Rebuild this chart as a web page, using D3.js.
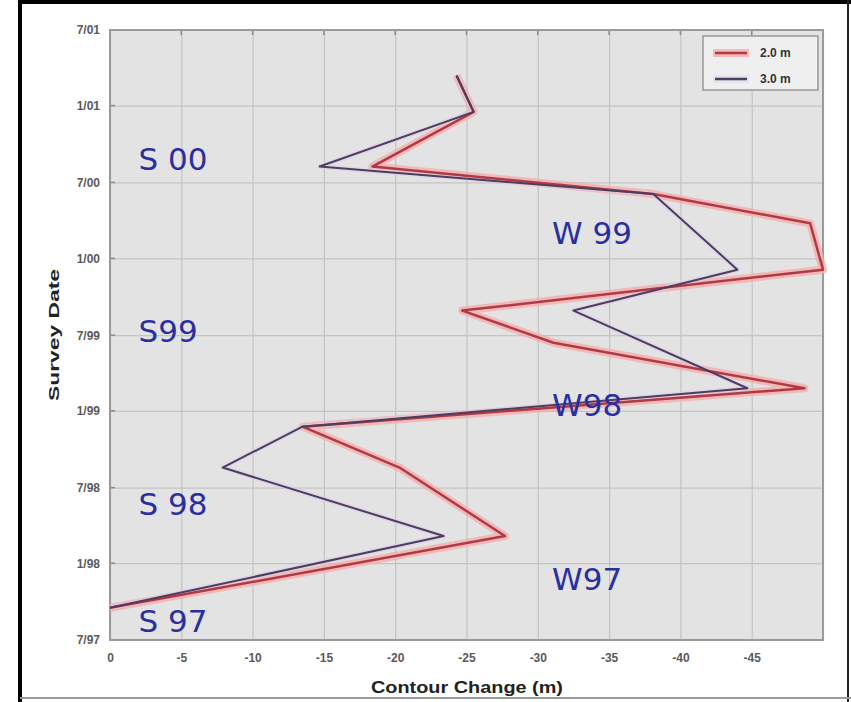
<!DOCTYPE html>
<html>
<head>
<meta charset="utf-8">
<script src="https://cdn.jsdelivr.net/npm/d3@7"></script>
<style>
  body { margin: 0; background: #fff; }
  svg { display: block; }
</style>
</head>
<body>
<script>
// survey dates (shared by both contours)
var surveyDates = ['1997-09-16', '1998-03-07', '1998-08-18', '1998-11-24', '1999-02-24',
	'1999-06-13', '1999-08-29', '1999-12-05', '2000-03-25', '2000-06-03',
	'2000-08-08', '2000-12-17', '2001-03-14'];

// contour change (m), null = no point for that survey
var contour2 = [0, -27.7, -20.3, -13.5, -48.7, -31.1, -24.7, -50, -49.1, -38.1, -18.4, -25.5, -24.3];
var contour3 = [0, -23.4, -7.9, -13.5, -44.7, null, -32.5, -44.0, null, -38.1, -14.7, -25.5, -24.3];

var seriesNames = ['2.0 m', '3.0 m'];

var xTicks = [0, -5, -10, -15, -20, -25, -30, -35, -40, -45];
var yTicks = ['1997-07-01', '1998-01-01', '1998-07-01', '1999-01-01', '1999-07-01',
	'2000-01-01', '2000-07-01', '2001-01-01', '2001-07-01'];

// season labels written on the plot
var seasonText = ['S 00', 'W 99', 'S99', 'W98', 'S 98', 'W97', 'S 97'];
var seasonX    = [-2, -31, -2, -31, -2, -31, -2];
var seasonDate = ['2000-07-31', '2000-02-05', '1999-06-15', '1998-12-19', '1998-04-27', '1997-10-29', '1997-07-20'];

var W = 851, H = 702,
	pLeft = 110, pRight = 823, pTop = 30, pBottom = 640;

var parse = d3.timeParse('%Y-%m-%d');

var svg = d3.select('body').append('svg')
	.attr('width', W)
	.attr('height', H);

// outer frame
svg.append('rect').attr('x', 0).attr('y', 0).attr('width', W).attr('height', H).attr('fill', '#fff');
svg.append('line').attr('x1', 20).attr('x2', 20).attr('y1', 0).attr('y2', H)
	.attr('stroke', '#000').attr('stroke-width', 4);
svg.append('line').attr('x1', 18).attr('x2', W).attr('y1', 2).attr('y2', 2)
	.attr('stroke', '#000').attr('stroke-width', 4);
svg.append('line').attr('x1', 848).attr('x2', 848).attr('y1', 0).attr('y2', H)
	.attr('stroke', '#222').attr('stroke-width', 2);
svg.append('line').attr('x1', 20).attr('x2', W).attr('y1', 698).attr('y2', 698)
	.attr('stroke', '#999').attr('stroke-width', 2);

var x = d3.scaleLinear().domain([0, -50]).range([pLeft, pRight]);
var y = d3.scaleTime()
	.domain([parse('1997-07-01'), parse('2001-07-01')])
	.range([pBottom, pTop]);

// plot background
svg.append('rect')
	.attr('x', pLeft).attr('y', pTop)
	.attr('width', pRight - pLeft).attr('height', pBottom - pTop)
	.attr('fill', '#e3e3e3');

// grid
svg.append('g')
	.attr('class', 'grid')
	.attr('transform', 'translate(0,' + pBottom + ')')
	.call(d3.axisBottom(x).tickValues(xTicks.concat([-50])).tickSize(-(pBottom - pTop)).tickFormat(''))
	.call(function(g) { g.select('.domain').remove(); });
svg.append('g')
	.attr('class', 'grid')
	.attr('transform', 'translate(' + pLeft + ',0)')
	.call(d3.axisLeft(y).tickValues(yTicks.map(parse)).tickSize(-(pRight - pLeft)).tickFormat(''))
	.call(function(g) { g.select('.domain').remove(); });
svg.selectAll('.grid line').attr('stroke', '#c4c4c4').attr('stroke-width', 1.2);

// axes
var xAxis = svg.append('g')
	.attr('transform', 'translate(0,' + pBottom + ')')
	.call(d3.axisBottom(x).tickValues(xTicks).tickSize(0).tickPadding(13)
		.tickFormat(function(d) { return String(d); }));
var yAxis = svg.append('g')
	.attr('transform', 'translate(' + pLeft + ',0)')
	.call(d3.axisLeft(y).tickValues(yTicks.map(parse)).tickSize(0).tickPadding(10)
		.tickFormat(function(d) { return (d.getMonth() + 1) + '/' + d3.timeFormat('%y')(d); }));
[xAxis, yAxis].forEach(function(g) {
	g.select('.domain').remove();
	g.selectAll('text')
		.attr('font-family', 'Liberation Sans, Arial, sans-serif')
		.attr('font-size', 12)
		.attr('font-weight', 'bold')
		.attr('fill', '#5a5a5a');
});

// small inward ticks on the box
svg.append('g').selectAll('line').data(xTicks.concat([-50])).enter().append('line')
	.attr('x1', function(d) { return x(d); }).attr('x2', function(d) { return x(d); })
	.attr('y1', pTop).attr('y2', pTop + 5)
	.attr('stroke', '#8a8a8a').attr('stroke-width', 1.5);
svg.append('g').selectAll('line').data(yTicks.map(parse)).enter().append('line')
	.attr('x1', pLeft).attr('x2', pLeft + 5)
	.attr('y1', function(d) { return y(d); }).attr('y2', function(d) { return y(d); })
	.attr('stroke', '#8a8a8a').attr('stroke-width', 1.5);

// box round the plot
svg.append('rect')
	.attr('x', pLeft).attr('y', pTop)
	.attr('width', pRight - pLeft).attr('height', pBottom - pTop)
	.attr('fill', 'none').attr('stroke', '#9a9a9a').attr('stroke-width', 2);

// axis titles
svg.append('text')
	.attr('x', 467).attr('y', 693)
	.attr('text-anchor', 'middle')
	.attr('font-family', 'Liberation Sans, Arial, sans-serif')
	.attr('font-size', 17).attr('font-weight', 'bold').attr('fill', '#222')
	.attr('textLength', 192).attr('lengthAdjust', 'spacingAndGlyphs')
	.text('Contour Change (m)');
svg.append('text')
	.attr('transform', 'translate(59,335)rotate(-90)')
	.attr('text-anchor', 'middle')
	.attr('font-family', 'Liberation Sans, Arial, sans-serif')
	.attr('font-size', 15).attr('font-weight', 'bold').attr('fill', '#222')
	.attr('textLength', 132).attr('lengthAdjust', 'spacingAndGlyphs')
	.text('Survey Date');

// lines
function points(vals) {
	return surveyDates.map(function(d, i) { return { date: parse(d), v: vals[i] }; })
		.filter(function(d) { return d.v != null; });
}

var line = d3.line()
	.x(function(d) { return x(d.v); })
	.y(function(d) { return y(d.date); });

var plot = svg.append('g');

plot.append('path').datum(points(contour2))
	.attr('d', line).attr('fill', 'none')
	.attr('stroke', '#f6aaaa').attr('stroke-width', 8).attr('stroke-opacity', 0.75)
	.attr('stroke-linejoin', 'round');
plot.append('path').datum(points(contour3))
	.attr('d', line).attr('fill', 'none')
	.attr('stroke', '#dccfe8').attr('stroke-width', 5).attr('stroke-opacity', 0.6)
	.attr('stroke-linejoin', 'round');
plot.append('path').datum(points(contour2))
	.attr('d', line).attr('fill', 'none')
	.attr('stroke', '#b03a44').attr('stroke-width', 2.5)
	.attr('stroke-linejoin', 'round');
plot.append('path').datum(points(contour3))
	.attr('d', line).attr('fill', 'none')
	.attr('stroke', '#4d3d60').attr('stroke-width', 2)
	.attr('stroke-linejoin', 'round');

// season labels
svg.append('g').selectAll('text')
	.data(seasonText)
	.enter().append('text')
		.attr('x', function(d, i) { return x(seasonX[i]); })
		.attr('y', function(d, i) { return y(parse(seasonDate[i])); })
		.attr('font-family', 'DejaVu Sans, sans-serif')
		.attr('font-size', 31)
		.attr('fill', '#2a2f9f')
		.text(function(d) { return d; });

// legend
var lg = svg.append('g').attr('transform', 'translate(703,36)');
lg.append('rect').attr('width', 115).attr('height', 54)
	.attr('fill', '#efefef').attr('stroke', '#999').attr('stroke-width', 1.5);
var legendColors = ['#b03a44', '#4d3d60'],
	legendHalo = ['#f6b8b8', '#e4e4ea'];
seriesNames.forEach(function(name, i) {
	var yy = 17 + i * 26;
	lg.append('line').attr('x1', 10).attr('x2', 46).attr('y1', yy).attr('y2', yy)
		.attr('stroke', legendHalo[i]).attr('stroke-width', 8);
	lg.append('line').attr('x1', 12).attr('x2', 44).attr('y1', yy).attr('y2', yy)
		.attr('stroke', legendColors[i]).attr('stroke-width', 2.5);
	lg.append('text').attr('x', 57).attr('y', yy + 4)
		.attr('font-family', 'Liberation Sans, Arial, sans-serif')
		.attr('font-size', 12).attr('font-weight', 'bold').attr('fill', '#333')
		.text(name);
});
</script>
</body>
</html>
